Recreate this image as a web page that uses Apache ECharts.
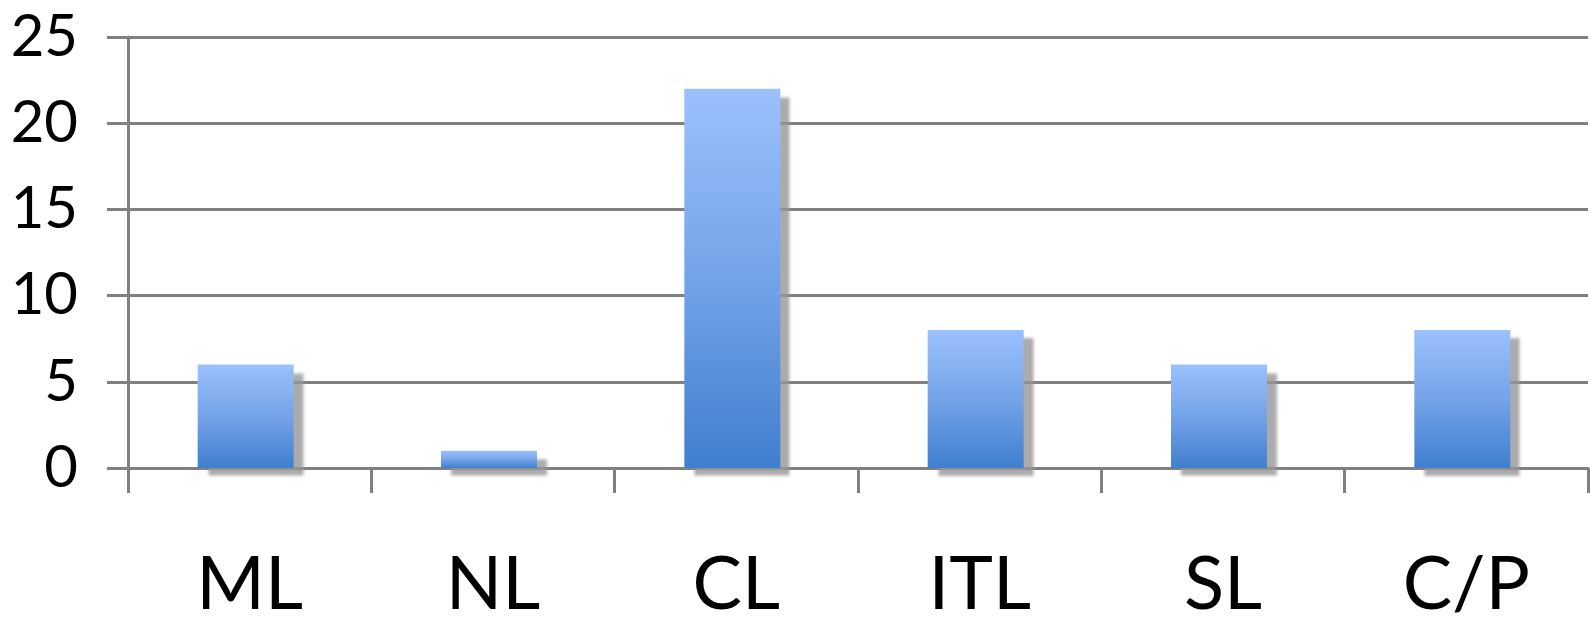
<!DOCTYPE html>
<html>
<head>
<meta charset="utf-8">
<script src="https://cdn.jsdelivr.net/npm/echarts@6/dist/echarts.min.js"></script>
<style>
html,body{margin:0;padding:0;background:#fff;}
#c{width:1590px;height:618px;}
</style>
</head>
<body>
<div id="c"></div>
<script>
const categories = ['ML', 'NL', 'CL', 'ITL', 'SL', 'C/P'];
const values = [6, 1, 22, 8, 6, 8];
const yTicks = { min: 0, max: 25, interval: 5 };

const chart = echarts.init(document.getElementById('c'), null, { renderer: 'canvas' });
const lineStyle = { color: '#808080', width: 3 };
chart.setOption({
  animation: false,
  backgroundColor: '#ffffff',
  grid: { left: 128, right: 2, top: 37, bottom: 150, containLabel: false, outerBoundsMode: 'none' },
  xAxis: {
    type: 'category',
    data: categories,
    boundaryGap: true,
    axisLine: { show: true, lineStyle: lineStyle },
    axisTick: { show: true, length: 25, lineStyle: lineStyle },
    axisLabel: {
      color: '#000',
      fontFamily: 'Lato',
      fontSize: 74,
      margin: 80,
      interval: 0
    },
    splitLine: { show: false }
  },
  yAxis: {
    type: 'value',
    min: yTicks.min,
    max: yTicks.max,
    interval: yTicks.interval,
    axisLine: { show: true, lineStyle: lineStyle },
    axisTick: { show: true, length: 21, lineStyle: lineStyle },
    axisLabel: {
      color: '#000',
      fontFamily: 'Lato',
      fontSize: 58,
      margin: 50
    },
    splitLine: { show: true, lineStyle: lineStyle }
  },
  series: [{
    type: 'bar',
    data: values,
    barWidth: 96,
    barGap: 0,
    clip: true,
    itemStyle: {
      color: {
        type: 'linear', x: 0, y: 0, x2: 0, y2: 1,
        colorStops: [
          { offset: 0, color: '#9bc1fe' },
          { offset: 0.5, color: '#75a3e8' },
          { offset: 1, color: '#3f7fcf' }
        ]
      },
      shadowColor: 'rgba(150,150,150,0.8)',
      shadowBlur: 3,
      shadowOffsetX: 10,
      shadowOffsetY: 8
    }
  }, {
    type: 'bar',
    data: [],
    barWidth: 8,
    silent: true
  }]
});
</script>
</body>
</html>
